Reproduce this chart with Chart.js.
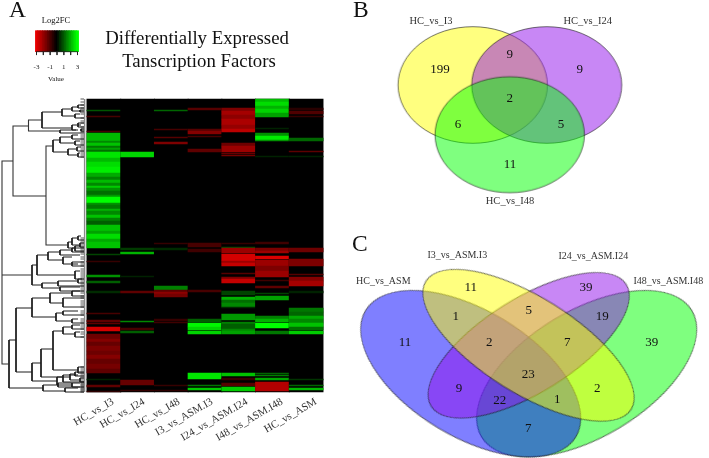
<!DOCTYPE html>
<html><head><meta charset="utf-8">
<style>html,body{margin:0;padding:0;background:#fff}canvas{display:block;filter:blur(0.35px)}</style>
<script src="https://cdn.jsdelivr.net/npm/chart.js@4"></script>
</head><body><canvas id="c" width="709" height="458"></canvas>
<script>
// ---------- DATA ----------
const heatColumns = ["HC_vs_I3","HC_vs_I24","HC_vs_I48","I3_vs_ASM.I3","I24_vs_ASM.I24","I48_vs_ASM.I48","HC_vs_ASM"];
const totalRows = 293;
// stripes: [first row, last row, Log2FC]
const stripesHCvsI3 = [[11,12,1.0],[17,18,-0.9],[32,33,-0.9],[34,42,2.2],[42,44,1.6],[44,47,2.3],[47,49,1.4],[49,51,1.9],[51,53,1.3],[53,59,2.7],[59,63,2.2],[63,68,2.6],[68,74,2.8],[74,78,2.0],[78,81,1.5],[81,84,2.2],[84,87,1.6],[87,89,2.4],[89,92,1.7],[92,96,1.3],[96,98,1.8],[98,104,3],[104,106,1.7],[106,110,1.4],[110,112,2.1],[112,116,1.6],[116,119,2.3],[119,122,1.5],[122,126,1.1],[126,132,2.3],[132,135,1.9],[135,140,2.6],[140,143,2.0],[143,149,2.3],[155,156,0.8],[162,163,-0.7],[176,178,1.7],[182,184,1.1],[192,194,0.5],[214,215,-0.9],[221,223,-1.2],[224,225,-1.2],[228,232,-2.7],[235,240,-1.4],[240,243,-1.7],[243,247,-1.3],[247,252,-1.6],[252,256,-1.4],[256,260,-1.7],[260,265,-1.3],[265,270,-1.5],[270,274,-1.2],[280,281,0.4],[286,288,-1.2],[292,293,-0.6]];
const stripesHCvsI24 = [[53,58,2.5],[149,151,0.7],[153,155,2.1],[177,178,0.4],[192,194,-1.2],[222,223,1.6],[229,231,-0.9],[232,234,1.1],[281,286,-1.3],[291,292,-0.7]];
const stripesHCvsI48 = [[11,12,1.2],[30,31,-0.9],[38,39,-1.1],[43,45,-1.6],[144,145,-0.7],[149,151,0.5],[187,191,1.5],[191,193,-1.2],[193,195,-1.8],[195,198,-1.5],[220,222,-0.7],[223,224,-0.8],[286,287,-0.7],[291,292,-0.6]];
const stripesI3vsASMI3 = [[9,11,-1.1],[30,32,-1.1],[32,35,-1.7],[37,38,-0.9],[50,53,-1.2],[144,148,-0.9],[150,153,-0.8],[191,193,-0.9],[220,223,1.1],[224,228,2.9],[228,231,2.5],[232,235,2.5],[274,280,2.7],[286,287,1.4],[289,291,2.4]];
const stripesI24vsASMI24 = [[9,12,-1.6],[12,16,-2.1],[16,20,-1.8],[20,26,-2.2],[26,30,-1.9],[30,33,-2.4],[44,47,-1.4],[47,53,-2.0],[54,55,-1.3],[56,57,-1.5],[144,145,-0.7],[148,149,0.9],[149,154,-2.0],[155,162,-2.7],[162,164,-2.0],[164,167,-2.5],[174,175,-1.1],[178,180,-1.6],[180,184,-2.5],[192,196,0.8],[198,201,2.1],[201,204,1.3],[204,208,1.6],[208,209,0.5],[215,221,1.8],[223,225,1.5],[225,230,1.1],[230,232,1.6],[232,235,1.9],[274,277,2.3],[279,281,-0.7],[284,287,-1.1],[288,292,2.4]];
const stripesI48vsASMI48 = [[0,3,2.2],[3,7,2.6],[7,10,2.1],[10,14,2.5],[14,18,1.9],[29,30,0.4],[34,37,1.7],[37,41,2.8],[41,42,1.7],[57,58,0.4],[143,145,-0.8],[149,152,-1.6],[152,154,-2.0],[157,160,-2.8],[161,167,-2.0],[167,172,-1.6],[172,178,-2.0],[181,182,-0.8],[187,189,-1.2],[194,195,0.8],[197,201,1.9],[217,220,1.5],[220,223,2.1],[224,229,3],[232,235,1.4],[274,275,1.2],[276,277,1.5],[279,281,2.0],[283,292,-2.3]];
const stripesHCvsASM = [[9,11,-0.5],[12,15,-1.0],[17,18,-0.7],[39,42,1.2],[52,53,-1.2],[57,58,0.4],[149,153,-1.4],[160,167,-1.6],[175,176,-1.1],[178,182,-1.7],[182,187,-2.1],[192,194,0.4],[209,213,1.4],[213,217,1.2],[217,220,2.0],[220,224,1.6],[224,228,2.3],[228,231,1.3],[232,235,2.4],[280,281,0.6],[286,287,1.2],[289,291,2.2]];
const heatStripes = [stripesHCvsI3,stripesHCvsI24,stripesHCvsI48,stripesI3vsASMI3,stripesI24vsASMI24,stripesI48vsASMI48,stripesHCvsASM];

const colorbarValues = [-3,-2.75,-2.5,-2.25,-2,-1.75,-1.5,-1.25,-1,-0.75,-0.5,-0.25,0,0.25,0.5,0.75,1,1.25,1.5,1.75,2,2.25,2.5,2.75,3];
const colorbarTicks = [-3,-2,-1,0,1,2,3];
const colorbarLabels = [-3,-1,1,3];

// dendrogram merges: [merge position, top row, bottom row, top child position, bottom child position]
const mainMerges = [[2,62,265,13,9],[2,176,176,32,32],[13,27,97,28.5,46],[28.5,21,32,42,60],[46,47,146,53,68]];
const innerMerges = [[42,13,29,62,72],[62,10,17,72,75],[72,8,12,78,80],[75,15,19,80,84],[78,6,9,84,84],[80,11,13,84,84],[72,26,31,81,78],[78,24,28,84,84],[81,30,32,84,84],[60,31,34,76,84],
[53,41,53,60,68],[60,38,44,72,75],[72,36,40,78,84],[75,42,46,80,84],[68,50,56,77,78],[77,48,52,81,84],[78,54,58,80,84],
[68,143,149,72,75],[72,139,146,78,80],[78,137,141,81,84],[80,144,148,84,84],[75,147,152,80,84],
[37,156,176,48,75],[48,153,161,60,63],[60,151,156,72,80],[63,158,165,72,78],[72,149,153,84,84],[72,163,167,84,84],[75,172,180,80,84],
[32,166,186,37,42],[42,184,189,58,60],[58,182,187,78,84],[60,188,192,80,84],[78,180,184,82,84],
[9,241,289,16,43],[16,209,273,32,32],[32,199,218,50,56],[50,194,204,72,63],[72,192,197,80,84],[63,199,208,84,84],[56,214,222,63,72],[63,212,216,78,84],[72,220,224,78,84],
[32,264,282,41,57],[41,250,278,53,70],[53,232,271,63,78],[63,228,235,72,75],[72,226,230,80,84],[75,233,238,80,84],[78,268,274,84,84],[70,275,281,75,80],[75,273,277,84,84],[80,279,283,84,84],[57,278,286,63,72],[63,276,283,78,84],[72,284,288,80,84],
[43,286,292,58,65],[58,284,288,72,80],[65,289,293,78,84]];
const leafRows = [0,3,6,9,12,15,19,22,24,28,30,32,33,36,38,40,42,44,46,48,50,52,54,56,58,139,141,143,145,147,149,151,153,155,158,160,163,165,167,170,172,174,176,178,180,182,184,186,188,190,192,194,197,199,202,204,206,208,212,214,216,220,222,224,226,228,230,233,235,238,268,270,272,274,276,278,280,282,283,284,285,286,287,288,289,290,291,292,293];

// Venn panels
const vennBLabels = ["HC_vs_I3","HC_vs_I24","HC_vs_I48"];
const vennBCounts = [199,9,9,2,6,5,11];
const vennCLabels = ["HC_vs_ASM","I3_vs_ASM.I3","I24_vs_ASM.I24","I48_vs_ASM.I48"];
const vennCCounts = [11,39,1,5,19,11,2,7,39,23,9,2,22,1,7];

// ---------- LAYOUT / STYLE ----------
const W = 709, H = 458;
function range(v0,p0,v1,p1,size){const k=(v1-v0)/(p1-p0);const min=v0-p0*k;return {min,max:min+size*k};}
const hidden = o => Object.assign({type:'linear',display:false,offset:false},o);
const heatX = range(-0.5,87,6.5,323,W), heatY = range(0,99,totalRows,392,H);
const cbX = range(-3,36.5,3,77.5,W), cbY = range(0,30.7,1,51.7,H);
function heatColor(v){const t=Math.min(1,Math.abs(v)/3);const c=Math.round(255*t);return v<0?`rgb(${Math.round(c*0.92)},0,0)`:`rgb(0,${c},0)`;}

function ellipseStyle(a,b,fill){
  const c=document.createElement('canvas');const s=Math.ceil(2*Math.max(a,b)+6);c.width=s;c.height=s;
  const g=c.getContext('2d');g.beginPath();g.ellipse(s/2,s/2,a,b,0,0,Math.PI*2);
  g.fillStyle=fill;g.fill();g.strokeStyle='rgba(20,20,20,0.75)';g.lineWidth=0.8;g.stroke();return c;
}
const YEL='rgba(255,255,0,0.5)',PUR='rgba(145,15,235,0.5)',GRN='rgba(0,255,0,0.5)',BLU='rgba(0,0,255,0.5)';
const vennShapes = [
 // panel B
 {x:472.7,y:85,a:74.7,b:58.3,r:0,fill:YEL},{x:546.7,y:85,a:75,b:58.3,r:0,fill:PUR},{x:509.7,y:134.7,a:74.7,b:58,r:0,fill:GRN},
 // panel C
 {x:586.7,y:373.7,a:122.7,b:63.3,r:-31,fill:GRN},{x:470.7,y:373.7,a:122.7,b:63.3,r:31,fill:BLU},
 {x:528.7,y:345.3,a:115,b:47,r:-32,fill:PUR},{x:528.5,y:345.3,a:121,b:48,r:32,fill:YEL}
];

function brackets(list){const pts=[];for(const [d,t,b,dt,db] of list){pts.push({x:dt,y:t},{x:d,y:t},{x:d,y:b},{x:db,y:b},{x:NaN,y:NaN});}return pts;}
function leafTicks(rows){const pts=[];for(const r of rows){pts.push({x:80.5,y:r},{x:84,y:r},{x:NaN,y:NaN});}return pts;}

const datasets=[];
// heatmap
heatStripes.forEach((col,i)=>{
  const rows=[[0,totalRows,0]].concat(col);
  datasets.push({type:'bar',label:heatColumns[i],grouped:false,barThickness:34,xAxisID:'xHeat',yAxisID:'yHeat',
    data:rows.map(s=>({x:i,y:[s[0],s[1]],v:s[2]})),backgroundColor:c=>heatColor(c.raw.v),borderWidth:0});
});
// colour key
datasets.push({type:'bar',label:'Log2FC',grouped:false,barThickness:2.2,xAxisID:'xBar',yAxisID:'yBar',
  data:colorbarValues.map(v=>({x:v,y:[0,1],v})),backgroundColor:c=>heatColor(c.raw.v),borderWidth:0});
datasets.push({type:'line',label:'key ticks',xAxisID:'xBar',yAxisID:'yBar',pointRadius:0,borderColor:'#222',borderWidth:0.8,spanGaps:false,
  data:colorbarTicks.flatMap(t=>[{x:t,y:1},{x:t,y:1.16},{x:NaN,y:NaN}]).concat([{x:-3,y:1},{x:3,y:1}])});
// dendrogram
datasets.push({type:'line',label:'leaf rail',xAxisID:'xPx',yAxisID:'yHeat',pointRadius:0,borderColor:'#8a8a8a',borderWidth:1.4,data:[{x:84.6,y:0},{x:84.6,y:totalRows}]});
datasets.push({type:'line',label:'leaves',xAxisID:'xPx',yAxisID:'yHeat',pointRadius:0,borderColor:'rgba(20,20,20,0.8)',borderWidth:0.9,spanGaps:false,data:leafTicks(leafRows)});
datasets.push({type:'line',label:'merges',xAxisID:'xPx',yAxisID:'yHeat',pointRadius:0,borderColor:'#1c1c1c',borderWidth:1,spanGaps:false,data:brackets(innerMerges)});
datasets.push({type:'line',label:'main merges',xAxisID:'xPx',yAxisID:'yHeat',pointRadius:0,borderColor:'#333',borderWidth:1.1,spanGaps:false,data:brackets(mainMerges)});
// venn ellipses
vennShapes.forEach(s=>datasets.push({type:'line',label:'set',showLine:false,xAxisID:'xPx',yAxisID:'yPx',data:[{x:s.x,y:s.y}],
  pointStyle:ellipseStyle(s.a,s.b,s.fill),pointRotation:s.r,pointRadius:1}));
datasets.forEach((d,i)=>{d.order=datasets.length-i;});

// text placed on the page-level scales
const SERIF='"Liberation Serif","Times New Roman",serif';
const vennBLabelAt=[[431,21],[587.7,21],[510,201.7]];
const vennBCountAt=[[440,70],[509.7,55],[579.7,70],[509.7,99],[458,125],[561,125],[510,164.3]];
const vennCLabelAt=[[383.3,281.7],[457.3,255.7],[593.3,256.7],[668.3,281.7]];
const vennCCountAt=[[470.7,287.7],[586,287.7],[455.7,316.7],[528.7,311],[602.3,316.7],[405,342.3],[489.3,342.3],[567.3,342.3],[651.7,342.3],[528.3,374.3],[459,388.3],[597.3,388.3],[499.7,401],[557.3,400],[528.3,429]];
const columnLabelEnd=[[113,401],[144,401],[179,401],[212,401],[247,401],[282,401],[316,401]];

const textPlugin={id:'texts',afterDatasetsDraw(chart){
  const {ctx,scales:{xPx,yPx,xBar}}=chart;
  const put=(t,x,y,size,align='center',color='#111',weight='')=>{ctx.font=`${weight} ${size}px ${SERIF}`;ctx.textAlign=align;ctx.textBaseline='middle';ctx.fillStyle=color;ctx.fillText(String(t),xPx.getPixelForValue(x),yPx.getPixelForValue(y));};
  ctx.save();
  put('A',9,11,23.5,'left','#111');put('B',353,11,23.5,'left','#111');put('C',352,245,23.5,'left','#111');
  put('Log2FC',56,21,8.5);
  colorbarLabels.forEach(v=>{ctx.font=`7px ${SERIF}`;ctx.textAlign='center';ctx.textBaseline='middle';ctx.fillStyle='#222';ctx.fillText(String(v),xBar.getPixelForValue(v),yPx.getPixelForValue(66.7));});
  put('Value',56,79,7);
  put('Differentially Expressed',197,39.5,18.8);
  put('Tanscription Factors',199,62,18.8);
  vennBLabels.forEach((t,i)=>put(t,vennBLabelAt[i][0],vennBLabelAt[i][1],10.5,'center','#333'));
  vennBCounts.forEach((t,i)=>put(t,vennBCountAt[i][0],vennBCountAt[i][1],13));
  vennCLabels.forEach((t,i)=>put(t,vennCLabelAt[i][0],vennCLabelAt[i][1],10,'center','#333'));
  vennCCounts.forEach((t,i)=>put(t,vennCCountAt[i][0],vennCCountAt[i][1],13));
  heatColumns.forEach((t,i)=>{const [x,y]=columnLabelEnd[i];ctx.save();ctx.translate(xPx.getPixelForValue(x),yPx.getPixelForValue(y));ctx.rotate(-30*Math.PI/180);ctx.font=`10.8px ${SERIF}`;ctx.textAlign='right';ctx.textBaseline='middle';ctx.fillStyle='#333';ctx.fillText(t,0,0);ctx.restore();});
  ctx.restore();
}};

new Chart(document.getElementById('c'),{
  type:'bar',
  data:{datasets},
  plugins:[textPlugin],
  options:{
    responsive:false,animation:false,devicePixelRatio:1,
    layout:{padding:0,autoPadding:false},
    plugins:{legend:{display:false},tooltip:{enabled:false},title:{display:false}},
    scales:{
      xHeat:hidden({axis:'x',min:heatX.min,max:heatX.max}),
      yHeat:hidden({axis:'y',reverse:true,min:heatY.min,max:heatY.max}),
      xBar:hidden({axis:'x',min:cbX.min,max:cbX.max}),
      yBar:hidden({axis:'y',reverse:true,min:cbY.min,max:cbY.max}),
      xPx:hidden({axis:'x',min:0,max:W}),
      yPx:hidden({axis:'y',reverse:true,min:0,max:H})
    }
  }
});
</script></body></html>
